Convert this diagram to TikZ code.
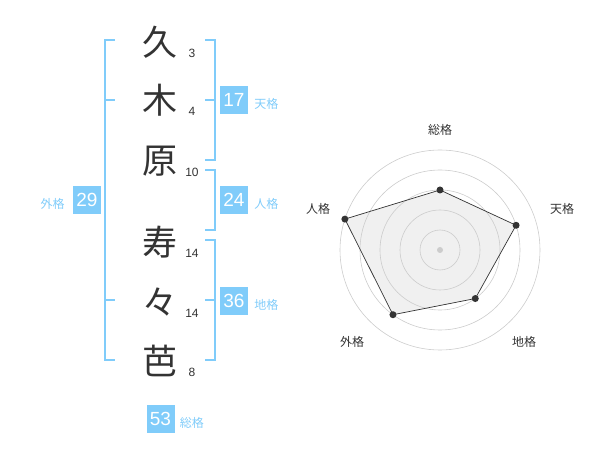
\documentclass[tikz,border=0pt]{standalone}
\usepackage{fontspec}
\setmainfont{Liberation Sans}
\newfontfamily\jpfont{Noto Sans CJK JP}
\usetikzlibrary{positioning}

\definecolor{kakublue}{RGB}{128,204,250}
\definecolor{inkgray}{RGB}{51,51,51}
\definecolor{ringgray}{RGB}{204,204,204}
\definecolor{areagray}{RGB}{240,240,240}

\tikzset{
    kanji/.style={font=\jpfont\fontsize{35}{35}\selectfont, text=inkgray, inner sep=0pt},
    strokes/.style={font=\fontsize{12}{12}\selectfont, text=inkgray, inner sep=0pt},
    kakubox/.style={fill=kakublue, text=white, minimum size=28pt, inner sep=0pt, font=\fontsize{19}{19}\selectfont},
    kakuname/.style={font=\jpfont\fontsize{12}{12}\selectfont, text=kakublue, inner sep=0pt, yshift=-4pt},
    bracket/.style={draw=kakublue, line width=2pt},
    axisname/.style={font=\jpfont\fontsize{12}{12}\selectfont, text=inkgray, inner sep=0pt},
    ring/.style={draw=ringgray, line width=0.6pt},
    vdot/.style={circle, fill=inkgray, inner sep=0pt, minimum size=7pt},
}

\begin{document}
\begin{tikzpicture}[x=1pt, y=-1pt]
\useasboundingbox (0,0) rectangle (600,470);

% name, one character per row, with stroke counts
\foreach \k/\y/\s [count=\i] in {久/42/3, 木/100/4, 原/161/10, 寿/242/14, 々/302/14, 芭/361/8}{
    \node[kanji] (char\i) at (160,\y) {\k};
    \node[strokes] (stroke\i) at (192,\y+11) {\s};
}

% brackets
\draw[bracket] (115,40) -- (105,40) -- (105,360) -- (115,360);
\draw[bracket] (105,100) -- (115,100);
\draw[bracket] (105,300) -- (115,300);
\draw[bracket] (205,40) -- (215,40) -- (215,160) -- (205,160);
\draw[bracket] (205,100) -- (215,100);
\draw[bracket] (205,170) -- (215,170) -- (215,230) -- (205,230);
\draw[bracket] (205,240) -- (215,240) -- (215,360) -- (205,360);
\draw[bracket] (205,300) -- (215,300);

% totals
\node[kakubox] (ten) at (234,100) {17};
\node[kakuname, right=6pt of ten] (tenname) {天格};
\node[kakubox] (jin) at (234,200) {24};
\node[kakuname, right=6pt of jin] (jinname) {人格};
\node[kakubox] (chi) at (234,301) {36};
\node[kakuname, right=6pt of chi] (chiname) {地格};
\node[kakubox] (gai) at (87,200) {29};
\node[kakuname, left=8pt of gai] (gainame) {外格};
\node[kakubox] (sou) at (160.5,419) {53};
\node[kakuname, right=5pt of sou] (souname) {総格};

% radar chart
\begin{scope}[shift={(440,250)}]
    \coordinate (centre) at (0,0);
    \foreach \a/\v [count=\i] in {-90/60, -18/80, 54/60, 126/80, 198/100}
        \coordinate (p\i) at (\a:\v);
    \fill[areagray] (p1) -- (p2) -- (p3) -- (p4) -- (p5) -- cycle;
    \foreach \r in {20,40,...,100}
        \draw[ring] (centre) circle (\r);
    \fill[ringgray] (centre) circle (3);
    \draw[inkgray, line width=0.7pt] (p1) -- (p2) -- (p3) -- (p4) -- (p5) -- cycle;
    \foreach \i in {1,...,5}
        \node[vdot] (dot\i) at (p\i) {};
    \foreach \n/\x/\y [count=\i] in {総格/0/-120, 天格/122/-41, 地格/84/92, 外格/-88/92, 人格/-122/-41}
        \node[axisname] (axis\i) at (\x,\y) {\n};
\end{scope}

\end{tikzpicture}
\end{document}
